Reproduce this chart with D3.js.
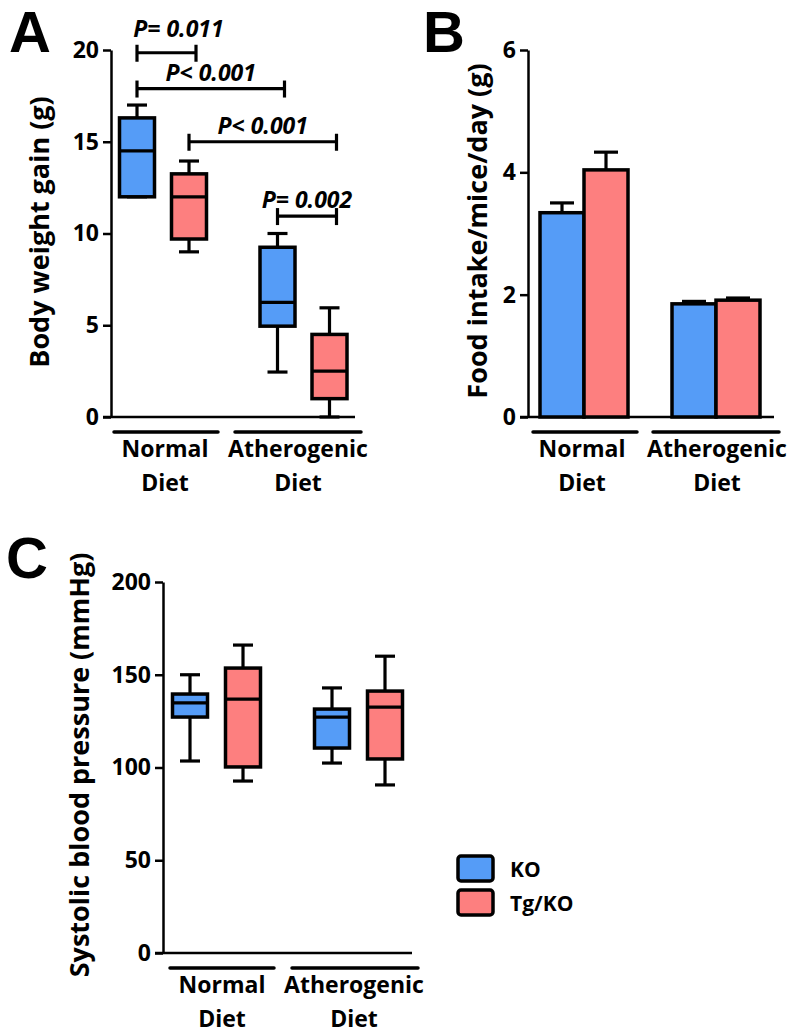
<!DOCTYPE html>
<html>
<head>
<meta charset="utf-8">
<script src="https://cdn.jsdelivr.net/npm/d3@7"></script>
<style>
body { margin: 0; background: #fff; }
text { font-family: "Open Sans", Lato, sans-serif; font-weight: bold; fill: #000; }
.letter { font-family: "Liberation Sans", Arial, sans-serif; font-size: 58px; }
</style>
</head>
<body>
<svg id="chart" width="793" height="1034"></svg>
<script>
// Categories
var groups = ["Normal", "Atherogenic"];
var groupLabels = [["Normal", "Diet"], ["Atherogenic", "Diet"]];
var series = ["KO", "Tg/KO"];

// A: body weight gain (g), [min, q1, median, q3, max] per group
var weightKO   = [[12, 12, 14.5, 16.3, 17], [2.45, 4.95, 6.25, 9.25, 10]];
var weightTgKO = [[9, 9.7, 12, 13.25, 13.95], [0, 1, 2.5, 4.5, 5.95]];
var weightTicks = [0, 5, 10, 15, 20];

// significance brackets for A
var pLabels = ["P= 0.011", "P< 0.001", "P< 0.001", "P= 0.002"];
var pFrom   = [["Normal", "KO"], ["Normal", "KO"], ["Normal", "Tg/KO"], ["Atherogenic", "KO"]];
var pTo     = [["Normal", "Tg/KO"], ["Atherogenic", "KO"], ["Atherogenic", "Tg/KO"], ["Atherogenic", "Tg/KO"]];
var pLevel  = [19.85, 17.9, 15, 10.95];

// B: food intake/mice/day (g), mean and SEM per group
var foodKO      = [3.34, 1.85];
var foodKOSem   = [0.16, 0.04];
var foodTgKO    = [4.04, 1.91];
var foodTgKOSem = [0.29, 0.035];
var foodTicks = [0, 2, 4, 6];

// C: systolic blood pressure (mmHg), [min, q1, median, q3, max]
var pressureKO   = [[103.5, 127.2, 134.8, 139.6, 150], [102.4, 110.5, 127.2, 131.5, 142.9]];
var pressureTgKO = [[92.7, 100.3, 136.9, 153.6, 166], [90.6, 104.6, 132.6, 141.2, 160]];
var pressureTicks = [0, 50, 100, 150, 200];

var color = d3.scaleOrdinal().domain(series).range(["#559cf7", "#fd7f7f"]);
var svg = d3.select("#chart");

function toRows(ko, tg) {
    var rows = [];
    groups.forEach(function(g, i) {
        rows.push({ group: g, series: "KO", v: ko[i] });
        rows.push({ group: g, series: "Tg/KO", v: tg[i] });
    });
    return rows;
}

// shared frame: y axis, baseline, group underlines and labels
function drawFrame(p) {
    var g = svg.append("g");
    g.append("g")
        .attr("transform", "translate(" + p.axisX + ",0)")
        .call(d3.axisLeft(p.y).tickValues(p.ticks).tickFormat(d3.format("d"))
            .tickSize(8).tickSizeOuter(0).tickPadding(4))
        .call(function(a) {
            a.select(".domain").attr("stroke-width", 2.5);
            a.selectAll(".tick line").attr("stroke-width", 2.5);
            a.selectAll(".tick text").style("font-size", "23px").attr("font-family", null);
        });
    g.append("line")
        .attr("x1", p.axisX - 8).attr("x2", p.axisEnd)
        .attr("y1", p.y(0)).attr("y2", p.y(0))
        .attr("stroke", "#000").attr("stroke-width", 2.5);

    groups.forEach(function(grp, i) {
        var c = p.label(grp);
        var w = i === 0 ? 104 : 126;
        g.append("line")
            .attr("x1", c + p.lineShift[i] - w / 2).attr("x2", c + p.lineShift[i] + w / 2)
            .attr("y1", p.y(0) + 15).attr("y2", p.y(0) + 15)
            .attr("stroke", "#000").attr("stroke-width", 3.5).attr("stroke-linecap", "round");
        groupLabels[i].forEach(function(t, j) {
            g.append("text")
                .attr("x", c).attr("y", p.y(0) + 40 + j * 34)
                .attr("text-anchor", "middle")
                .style("font-size", "23px")
                .text(t);
        });
    });

    g.append("text")
        .attr("transform", "translate(" + p.titleX + "," + p.titleY + ") rotate(-90)")
        .attr("text-anchor", "middle")
        .style("font-size", "27px")
        .text(p.title);

    g.append("text")
        .attr("class", "letter")
        .attr("x", p.letterX).attr("y", p.letterY)
        .text(p.letter);
    return g;
}

function drawBoxes(g, x, sub, y, rows) {
    var bw = 35, cap = 20;
    var box = g.selectAll(".box").data(rows).enter().append("g")
        .attr("transform", function(d) { return "translate(" + (x(d.group) + sub(d.series)) + ",0)"; });
    box.append("line")
        .attr("y1", function(d) { return y(d.v[0]); })
        .attr("y2", function(d) { return y(d.v[4]); })
        .attr("stroke", "#000").attr("stroke-width", 3.2);
    box.append("line")
        .attr("x1", -cap / 2).attr("x2", cap / 2)
        .attr("y1", function(d) { return y(d.v[4]); })
        .attr("y2", function(d) { return y(d.v[4]); })
        .attr("stroke", "#000").attr("stroke-width", 3.2);
    box.append("line")
        .attr("x1", -cap / 2).attr("x2", cap / 2)
        .attr("y1", function(d) { return y(d.v[0]); })
        .attr("y2", function(d) { return y(d.v[0]); })
        .attr("stroke", "#000").attr("stroke-width", 3.2);
    box.append("rect")
        .attr("x", -bw / 2).attr("width", bw)
        .attr("y", function(d) { return y(d.v[3]); })
        .attr("height", function(d) { return y(d.v[1]) - y(d.v[3]); })
        .attr("fill", function(d) { return color(d.series); })
        .attr("stroke", "#000").attr("stroke-width", 3.5);
    box.append("line")
        .attr("x1", -bw / 2).attr("x2", bw / 2)
        .attr("y1", function(d) { return y(d.v[2]); })
        .attr("y2", function(d) { return y(d.v[2]); })
        .attr("stroke", "#000").attr("stroke-width", 3.2);
}

// ---------- Panel A ----------
var yA = d3.scaleLinear().domain([0, 20]).range([417, 50]);
var xA = d3.scalePoint().domain(groups).range([163, 303.5]);
var subA = d3.scalePoint().domain(series).range([-26, 26]);
var gA = drawFrame({
    y: yA, ticks: weightTicks, axisX: 111, axisEnd: 355,
    label: d3.scalePoint().domain(groups).range([165, 298]), lineShift: [1, 0],
    title: "Body weight gain (g)", titleX: 49, titleY: 232,
    letter: "A", letterX: 9, letterY: 52
});
drawBoxes(gA, xA, subA, yA, toRows(weightKO, weightTgKO));

pLabels.forEach(function(lab, i) {
    var x1 = xA(pFrom[i][0]) + subA(pFrom[i][1]);
    var x2 = xA(pTo[i][0]) + subA(pTo[i][1]) + 7;
    var yy = yA(pLevel[i]);
    var br = gA.append("g").attr("stroke", "#000").attr("stroke-width", 3.2);
    br.append("line").attr("x1", x1).attr("x2", x2).attr("y1", yy).attr("y2", yy);
    br.append("line").attr("x1", x1).attr("x2", x1).attr("y1", yy - 8).attr("y2", yy + 9);
    br.append("line").attr("x1", x2).attr("x2", x2).attr("y1", yy - 8).attr("y2", yy + 9);
    gA.append("text")
        .attr("x", (x1 + x2) / 2 + (i === 0 ? 12 : 0)).attr("y", yy - (i === 0 ? 16 : 8))
        .attr("text-anchor", "middle")
        .style("font-size", "23px").style("font-style", "italic")
        .text(lab);
});

// ---------- Panel B ----------
var yB = d3.scaleLinear().domain([0, 6]).range([417, 50]);
var xB = d3.scalePoint().domain(groups).range([584, 716]);
var subB = d3.scaleBand().domain(series).range([-44, 44]);
var gB = drawFrame({
    y: yB, ticks: foodTicks, axisX: 528, axisEnd: 774,
    label: d3.scalePoint().domain(groups).range([582, 717]), lineShift: [3, -1],
    title: "Food intake/mice/day (g)", titleX: 487, titleY: 231,
    letter: "B", letterX: 423, letterY: 52
});
var barRows = [];
groups.forEach(function(g, i) {
    barRows.push({ group: g, series: "KO", mean: foodKO[i], sem: foodKOSem[i] });
    barRows.push({ group: g, series: "Tg/KO", mean: foodTgKO[i], sem: foodTgKOSem[i] });
});
var bar = gB.selectAll(".bar").data(barRows).enter().append("g")
    .attr("transform", function(d) { return "translate(" + (xB(d.group) + subB(d.series)) + ",0)"; });
bar.append("line")
    .attr("x1", subB.bandwidth() / 2).attr("x2", subB.bandwidth() / 2)
    .attr("y1", function(d) { return yB(d.mean); })
    .attr("y2", function(d) { return yB(d.mean + d.sem); })
    .attr("stroke", "#000").attr("stroke-width", 3.2);
bar.append("line")
    .attr("x1", subB.bandwidth() / 2 - 12).attr("x2", subB.bandwidth() / 2 + 12)
    .attr("y1", function(d) { return yB(d.mean + d.sem); })
    .attr("y2", function(d) { return yB(d.mean + d.sem); })
    .attr("stroke", "#000").attr("stroke-width", 3.2);
bar.append("rect")
    .attr("x", 0).attr("width", subB.bandwidth())
    .attr("y", function(d) { return yB(d.mean); })
    .attr("height", function(d) { return yB(0) - yB(d.mean); })
    .attr("fill", function(d) { return color(d.series); })
    .attr("stroke", "#000").attr("stroke-width", 3.5);

// ---------- Panel C ----------
var yC = d3.scaleLinear().domain([0, 200]).range([953, 582]);
var xC = d3.scalePoint().domain(groups).range([216.5, 358.5]);
var subC = d3.scalePoint().domain(series).range([-26.5, 26.5]);
var gC = drawFrame({
    y: yC, ticks: pressureTicks, axisX: 163, axisEnd: 412,
    label: d3.scalePoint().domain(groups).range([222, 354]), lineShift: [0, 1],
    title: "Systolic blood pressure (mmHg)", titleX: 89, titleY: 765,
    letter: "C", letterX: 6, letterY: 578
});
drawBoxes(gC, xC, subC, yC, toRows(pressureKO, pressureTgKO));

// legend
var legend = svg.append("g").selectAll("g").data(series).enter().append("g")
    .attr("transform", function(d, i) { return "translate(458," + (856 + i * 34) + ")"; });
legend.append("rect")
    .attr("width", 35).attr("height", 25).attr("rx", 3)
    .attr("fill", function(d) { return color(d); })
    .attr("stroke", "#000").attr("stroke-width", 3.5);
legend.append("text")
    .attr("x", 52).attr("y", 21)
    .style("font-size", "21px")
    .text(function(d) { return d; });
</script>
</body>
</html>
